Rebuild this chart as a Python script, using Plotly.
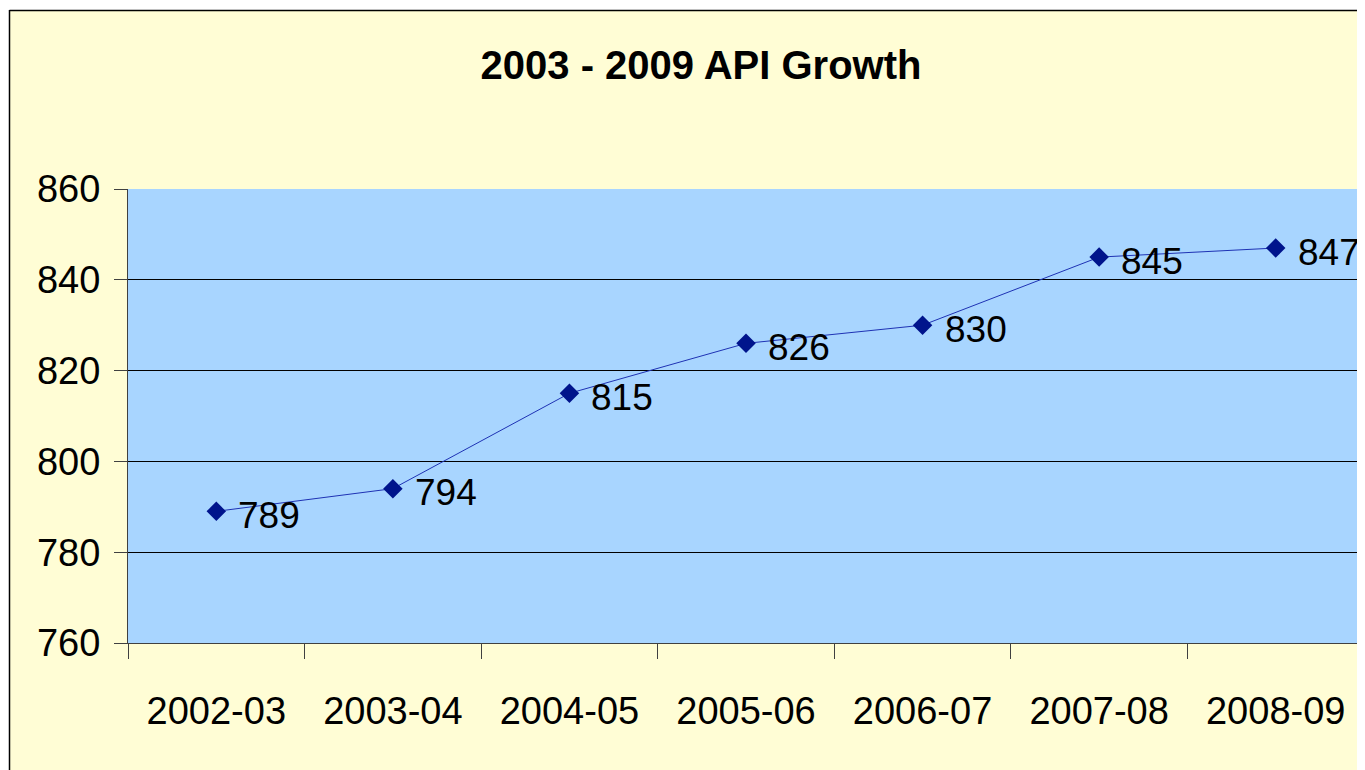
import plotly.graph_objects as go

years = ["2002-03", "2003-04", "2004-05", "2005-06", "2006-07", "2007-08", "2008-09"]
api = [789, 794, 815, 826, 830, 845, 847]
y_ticks = [760, 780, 800, 820, 840, 860]

# page body has an 8px margin; figure is sized so it fits the 1365x770 window
O = 8
W, H = 1365 - O, 770 - O
L, T = 128 - O, 189 - O
pw, ph = 1236, 454
R = W - L - pw
B = H - T - ph


def px_x(p):  # p in page pixels
    return (p - O - L) / pw


def px_y(p):
    return (T + ph - (p - O)) / ph


FONT = "Liberation Sans, Arial, sans-serif"

fig = go.Figure()
fig.add_trace(go.Scatter(
    x=years, y=api,
    mode="lines+markers",
    line=dict(color="#1E32B4", width=1),
    marker=dict(symbol="diamond", size=15, color="#00148C"),
    cliponaxis=False,
    showlegend=False,
))

for yr, v in zip(years, api):
    fig.add_annotation(
        x=yr, y=v, text=str(v), showarrow=False,
        xanchor="left", yanchor="middle", xshift=20, yshift=-4,
        font=dict(family=FONT, size=37, color="black"),
    )

fig.update_layout(
    width=W, height=H,
    margin=dict(l=L, r=R, t=T, b=B),
    paper_bgcolor="#FFFDD5",
    plot_bgcolor="#A8D5FF",
    title=dict(text="<b>2003 - 2009 API Growth</b>", x=(701 - O) / W, xanchor="center",
               y=1 - (65 - O) / H, yanchor="middle",
               font=dict(family=FONT, size=40, color="black")),
    xaxis=dict(
        type="category", range=[-0.5, 6.5],
        tickson="boundaries", ticks="outside", ticklen=15, tickcolor="#404040", tickwidth=1,
        showline=True, linecolor="#404040", linewidth=1, mirror=False,
        showgrid=False, zeroline=False,
        tickfont=dict(family=FONT, size=38, color="black"),
        ticklabelstandoff=34,
    ),
    yaxis=dict(
        range=[760, 860], tickvals=y_ticks,
        ticks="outside", ticklen=13, tickcolor="#404040", tickwidth=1,
        showline=True, linecolor="#404040", linewidth=1,
        showgrid=True, gridcolor="#000000", gridwidth=1, zeroline=False,
        tickfont=dict(family=FONT, size=38, color="black"),
        ticklabelstandoff=6,
    ),
    shapes=[
        dict(type="rect", xref="paper", yref="paper", x0=px_x(0), x1=px_x(9), y0=px_y(800), y1=px_y(0),
             fillcolor="white", line=dict(width=0), layer="below"),
        dict(type="rect", xref="paper", yref="paper", x0=px_x(0), x1=px_x(1400), y0=px_y(10), y1=px_y(0),
             fillcolor="white", line=dict(width=0), layer="below"),
        dict(type="line", xref="paper", yref="paper", x0=px_x(9.5), x1=px_x(9.5), y0=px_y(10), y1=px_y(800),
             line=dict(color="black", width=1.5)),
        dict(type="line", xref="paper", yref="paper", x0=px_x(9.5), x1=px_x(1400), y0=px_y(10.5), y1=px_y(10.5),
             line=dict(color="black", width=1.5)),
    ],
)

fig.write_html("out.html")
